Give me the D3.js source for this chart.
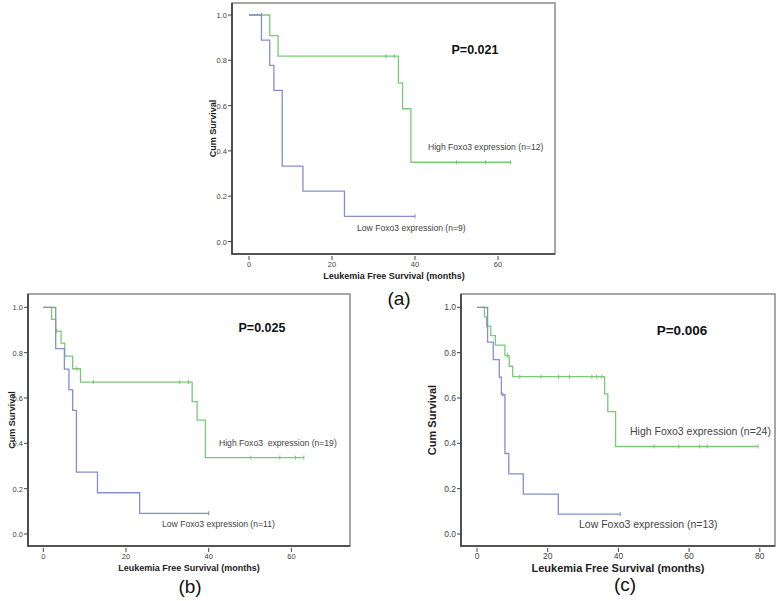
<!DOCTYPE html>
<html>
<head>
<meta charset="utf-8">
<script src="https://cdn.jsdelivr.net/npm/d3@7"></script>
<style>
  body { margin: 0; background: #fff; }
  svg text { font-family: "Liberation Sans", Arial, sans-serif; }
</style>
</head>
<body>
<svg id="chart" width="778" height="601"></svg>
<script>
// Kaplan-Meier curves, values
// each series: event times + survival after each event, end time, censor times

// (a)
const aHighT = [5, 7, 36, 37, 39];
const aHighS = [0.909, 0.818, 0.70, 0.586, 0.35];
const aHighEnd = 63;
const aHighCens = [33, 35, 50, 57, 63];
const aLowT = [3, 5, 6, 8, 13, 23];
const aLowS = [0.889, 0.778, 0.667, 0.333, 0.222, 0.111];
const aLowEnd = 40;
const aLowCens = [3, 40];

// (b)
const bHighT = [2, 3, 4.3, 5.2, 7.1, 9, 36, 37.2, 39.2];
const bHighS = [0.947, 0.895, 0.842, 0.785, 0.729, 0.67, 0.584, 0.502, 0.337];
const bHighEnd = 63;
const bHighCens = [3.2, 8.1, 12.1, 33, 35.1, 50.2, 57.2, 61, 63];
const bLowT = [3, 5.1, 6.2, 7.1, 8, 13.1, 23.3];
const bLowS = [0.818, 0.727, 0.636, 0.545, 0.273, 0.182, 0.091];
const bLowEnd = 40;
const bLowCens = [40];

// (c)
const cHighT = [2.1, 2.7, 3.9, 5.2, 7.9, 9.1, 10.1, 36.1, 37, 39.2];
const cHighS = [0.958, 0.917, 0.875, 0.833, 0.787, 0.74, 0.694, 0.618, 0.54, 0.386];
const cHighEnd = 79.5;
const cHighCens = [2.9, 8.6, 12.1, 18.1, 23.1, 26.2, 32.5, 33.9, 35.3, 50.1, 57.1, 63, 65.1, 79.5];
const cLowT = [3, 4.6, 6.3, 6.9, 7.9, 9, 13.1, 23];
const cLowS = [0.846, 0.769, 0.692, 0.615, 0.355, 0.265, 0.176, 0.088];
const cLowEnd = 40.5;
const cLowCens = [7.3, 40.5];

const yTicks = [0, 0.2, 0.4, 0.6, 0.8, 1.0];
const aXTicks = [0, 20, 40, 60];
const bXTicks = [0, 20, 40, 60];
const cXTicks = [0, 20, 40, 60, 80];

const GREEN = "#79c979";
const BLUE = "#8390cc";

const svg = d3.select("#chart");

function series(times, surv, end, cens) {
  const pts = [[0, 1]].concat(times.map((t, i) => [t, surv[i]]));
  pts.push([end, surv[surv.length - 1]]);
  // survival just before time t (censor marks sit on the earlier level)
  const at = t => {
    let s = 1;
    times.forEach((e, i) => { if (e < t) s = surv[i]; });
    return s;
  };
  return { pts, cens: cens.map(t => [t, at(t)]) };
}

function drawPanel(p) {
  const g = svg.append("g");
  const x = d3.scaleLinear().domain([0, p.xTicks[1]]).range([p.x0, p.x20]);
  const y = d3.scaleLinear().domain([0, 1]).range([p.y0, p.y1]);

  // frame
  g.append("rect")
    .attr("x", p.left).attr("y", p.top)
    .attr("width", p.right - p.left).attr("height", p.bottom - p.top)
    .attr("fill", "none").attr("stroke", "#8a8a8a").attr("stroke-width", 1.5);
  g.append("path")
    .attr("d", `M${p.left},${p.top}V${p.bottom}H${p.right}`)
    .attr("fill", "none").attr("stroke", "#3a3a3a").attr("stroke-width", 1.6);

  // y axis ticks
  yTicks.forEach(v => {
    g.append("line").attr("x1", p.left - 4).attr("x2", p.left)
      .attr("y1", y(v)).attr("y2", y(v)).attr("stroke", "#444");
    g.append("text").attr("x", p.left - 5).attr("y", y(v) + 3)
      .attr("text-anchor", "end").attr("font-size", p.tickSize).attr("fill", "#444")
      .text(d3.format(".1f")(v));
  });
  // x axis ticks
  p.xTicks.forEach(v => {
    g.append("line").attr("x1", x(v)).attr("x2", x(v))
      .attr("y1", p.bottom + 2).attr("y2", p.bottom + 6).attr("stroke", "#444");
    g.append("text").attr("x", x(v)).attr("y", p.bottom + 13)
      .attr("text-anchor", "middle").attr("font-size", p.tickSize).attr("fill", "#444")
      .text(v);
  });

  const line = d3.line().x(d => x(d[0])).y(d => y(d[1])).curve(d3.curveStepAfter);
  p.curves.forEach(c => {
    g.append("path").attr("d", line(c.s.pts))
      .attr("fill", "none").attr("stroke", c.color).attr("stroke-width", 1.3);
    g.selectAll(null).data(c.s.cens).enter().append("line")
      .attr("x1", d => x(d[0])).attr("x2", d => x(d[0]))
      .attr("y1", d => y(d[1]) - 2).attr("y2", d => y(d[1]) + 2)
      .attr("stroke", c.color).attr("stroke-width", 1.1);
  });

  // labels
  g.append("text").attr("x", p.pX).attr("y", p.pY)
    .attr("text-anchor", "middle").attr("font-size", p.pSize)
    .attr("font-weight", "bold").attr("fill", "#111").text(p.pText);
  p.notes.forEach(n => {
    g.append("text").attr("x", n[0]).attr("y", n[1])
      .attr("font-size", p.noteSize).attr("fill", "#444")
      .attr("xml:space", "preserve").style("white-space", "pre").text(n[2]);
  });
  g.append("text")
    .attr("transform", `translate(${p.ylabX},${(p.top + p.bottom) / 2}) rotate(-90)`)
    .attr("text-anchor", "middle").attr("font-size", p.titleSize)
    .attr("font-weight", "bold").attr("fill", "#222").text("Cum Survival");
  g.append("text").attr("x", p.xlabX).attr("y", p.xlabY)
    .attr("text-anchor", "middle").attr("font-size", p.titleSize)
    .attr("font-weight", "bold").attr("fill", "#222").text("Leukemia Free Survival (months)");
  g.append("text").attr("x", p.tagX).attr("y", p.tagY)
    .attr("text-anchor", "middle").attr("font-size", 19).attr("fill", "#111").text(p.tag);
}

drawPanel({
  left: 232, right: 555, top: 3, bottom: 254,
  x0: 249, x20: 332, y0: 241.5, y1: 15, xTicks: aXTicks,
  tickSize: 7.5, titleSize: 9, noteSize: 8.6, pSize: 12.5,
  curves: [
    { s: series(aHighT, aHighS, aHighEnd, aHighCens), color: GREEN },
    { s: series(aLowT, aLowS, aLowEnd, aLowCens), color: BLUE }
  ],
  pText: "P=0.021", pX: 475, pY: 54,
  notes: [[428, 150, "High Foxo3 expression (n=12)"], [357, 231, "Low Foxo3 expression (n=9)"]],
  ylabX: 216, xlabX: 394, xlabY: 279,
  tag: "(a)", tagX: 399, tagY: 305
});

drawPanel({
  left: 28, right: 350, top: 294, bottom: 546,
  x0: 43.3, x20: 126, y0: 534, y1: 307.3, xTicks: bXTicks,
  tickSize: 7.5, titleSize: 9, noteSize: 8.6, pSize: 12.5,
  curves: [
    { s: series(bHighT, bHighS, bHighEnd, bHighCens), color: GREEN },
    { s: series(bLowT, bLowS, bLowEnd, bLowCens), color: BLUE }
  ],
  pText: "P=0.025", pX: 262, pY: 332,
  notes: [[219, 446, "High Foxo3  expression (n=19)"], [162, 527, "Low Foxo3 expression (n=11)"]],
  ylabX: 15, xlabX: 189, xlabY: 571,
  tag: "(b)", tagX: 190, tagY: 593
});

drawPanel({
  left: 461, right: 775, top: 294, bottom: 546,
  x0: 477, x20: 547.7, y0: 534, y1: 307.3, xTicks: cXTicks,
  tickSize: 8.5, titleSize: 11, noteSize: 10.5, pSize: 13.5,
  curves: [
    { s: series(cHighT, cHighS, cHighEnd, cHighCens), color: GREEN },
    { s: series(cLowT, cLowS, cLowEnd, cLowCens), color: BLUE }
  ],
  pText: "P=0.006", pX: 682, pY: 335,
  notes: [[630, 435, "High Foxo3 expression (n=24)"], [579, 528, "Low Foxo3 expression (n=13)"]],
  ylabX: 436, xlabX: 618, xlabY: 572,
  tag: "(c)", tagX: 625, tagY: 591
});
</script>
</body>
</html>
